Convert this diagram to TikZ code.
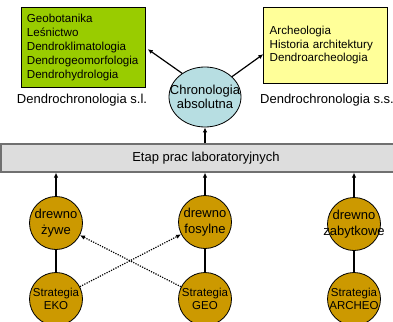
\documentclass[tikz,border=0pt]{standalone}
\usepackage{fontspec}
\setmainfont{Liberation Sans}
\usetikzlibrary{arrows.meta,shapes.geometric,calc}
\definecolor{boxgreen}{HTML}{99CC00}
\definecolor{boxyellow}{HTML}{FFFF99}
\definecolor{gold}{HTML}{CC9900}
\definecolor{lightblue}{RGB}{183,222,226}
\definecolor{bargray}{HTML}{DDDDDD}
\definecolor{barline}{HTML}{707070}
\newcommand{\zb}[1]{\makebox[0pt]{#1}}
\begin{document}
\begin{tikzpicture}[x=1pt,y=-1pt,
  listbox/.style={draw=black, line width=0.8pt, anchor=north west, align=left,
    text width=112pt, inner xsep=6pt, inner ysep=0pt},
  caption/.style={font=\fontsize{13}{15.6}\selectfont},
  woodcirc/.style={circle, draw=black, line width=0.8pt, fill=gold, minimum size=53pt,
    inner sep=0pt, align=center, font=\fontsize{13}{15.6}\selectfont},
  stratcirc/.style={woodcirc, font=\fontsize{11.5}{13.6}\selectfont},
  arr/.style={line width=1.2pt, -{Latex[length=5pt,width=4.5pt]}},
  dotarr/.style={arr, dash pattern=on 1.2pt off 1.3pt},
  link/.style={line width=1.4pt}]
\useasboundingbox (0,0) rectangle (393,321);
\clip (0,0) rectangle (393,321);

\node[listbox, fill=boxgreen, minimum height=79pt, font=\fontsize{11.6}{13.9}\selectfont]
  (green) at (20.5,7.5) {Geobotanika\\Leśnictwo\\Dendroklimatologia\\Dendrogeomorfologia\\Dendrohydrologia};
\node[listbox, fill=boxyellow, minimum height=75pt, font=\fontsize{11.6}{13.4}\selectfont]
  (yellow) at (263.3,7.5) {Archeologia\\Historia architektury\\Dendroarcheologia};

\node[caption] (lsl) at (82,100) {Dendrochronologia s.l.};
\node[caption] (lss) at (327,100) {Dendrochronologia s.s.};

\node[ellipse, draw=black, line width=0.8pt, fill=lightblue, minimum width=72pt,
  minimum height=60pt, inner sep=0pt, align=center, font=\fontsize{13}{14.5}\selectfont]
  (chron) at (205,97) {\zb{Chronologia}\\\zb{absolutna}};

\node[draw=barline, line width=1.2pt, fill=bargray, minimum width=410pt, minimum height=28pt,
  inner sep=0pt, font=\fontsize{13}{15.6}\selectfont]
  (bar) at (206,158) {Etap prac laboratoryjnych};

\node[woodcirc] (zyw) at (56,223) {\zb{drewno}\\\zb{żywe}};
\node[woodcirc] (fos) at (205,222) {\zb{drewno}\\\zb{fosylne}};
\node[woodcirc] (zab) at (354,224) {\zb{drewno}\\\zb{zabytkowe}};

\node[stratcirc] (eko) at (56,299) {\zb{Strategia}\\\zb{EKO}};
\node[stratcirc] (geo) at (205,299) {\zb{Strategia}\\\zb{GEO}};
\node[stratcirc] (arch) at (354,299) {\zb{Strategia}\\\zb{ARCHEO}};

% arrows top
\draw[arr, shorten >=3pt] (chron.134) -- (green.east);
\draw[arr] (chron.37) -- (yellow.188);
\draw[arr] (chron.south |- bar.north) -- (chron.south);

% arrows from wood to bar
\draw[arr] (zyw.north) -- (zyw.north |- bar.south);
\draw[arr] (fos.north) -- (fos.north |- bar.south);
\draw[arr] (zab.north) -- (zab.north |- bar.south);

% links
\draw[link] (zyw.south) -- (eko.north);
\draw[link] (fos.south) -- (geo.north);
\draw[link] (zab.south) -- (arch.north);

% dotted cross arrows
\draw[dotarr] (eko) -- (fos);
\draw[dotarr] (geo) -- (zyw);
\end{tikzpicture}
\end{document}
